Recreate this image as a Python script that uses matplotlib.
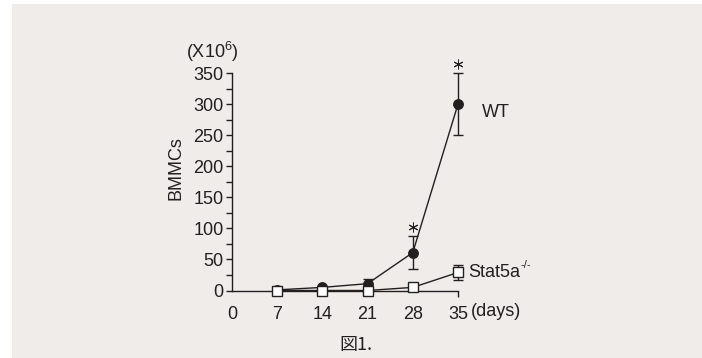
import matplotlib
matplotlib.use("Agg")
import matplotlib.pyplot as plt
import matplotlib.transforms as mtransforms
from matplotlib.patches import Rectangle

plt.rcParams['font.family'] = ['Liberation Sans', 'DejaVu Sans']
plt.rcParams['mathtext.fontset'] = 'custom'
plt.rcParams['mathtext.rm'] = 'Liberation Sans'
plt.rcParams['mathtext.it'] = 'Liberation Sans:italic'

# ---- data ----
days = [7, 14, 21, 28, 35]
wt_mean = [1, 5, 11, 61, 300]
wt_err = [0, 1, 7, 26, 50]
stat_mean = [0, 0, 0, 5, 29]
stat_err = [0, 0, 0, 2, 12]
xticks = [0, 7, 14, 21, 28, 35]
yticks = [0, 50, 100, 150, 200, 250, 300, 350]
sig_days = [28, 35]

ink = '#231f20'
bg = '#f0ecea'
fs = 13

fig = plt.figure(figsize=(7.02, 3.58), dpi=100)
fig.patch.set_facecolor('white')
fig.patches.append(Rectangle((12 / 702, 0), 1 - 12 / 702, 1 - 4 / 358,
                             transform=fig.transFigure, facecolor=bg,
                             edgecolor='none', zorder=-10))

ax = fig.add_axes([232 / 702, (358 - 290.5) / 358, 226 / 702, 217.5 / 358])
ax.set_facecolor('none')
ax.set_xlim(0, 35)
ax.set_ylim(0, 350)

for s in ['top', 'right']:
    ax.spines[s].set_visible(False)
for s in ['left', 'bottom']:
    ax.spines[s].set_color(ink)
    ax.spines[s].set_linewidth(1.0)

ax.set_xticks(xticks)
ax.set_yticks(yticks)
ax.set_yticks([25, 75, 125, 175, 225, 275, 325], minor=True)
ax.tick_params(axis='y', which='both', direction='out', length=4, width=1.0,
               color=ink, labelcolor=ink, labelsize=fs, pad=2)
ax.tick_params(axis='x', which='major', direction='in', length=4, width=1.0,
               color=ink, labelcolor=ink, labelsize=fs, pad=11)
ax.xaxis.get_major_ticks()[0].tick1line.set_visible(False)
ax.xaxis.get_major_ticks()[-1].tick1line.set_marker(3)

ax.errorbar(days, wt_mean, yerr=wt_err, color=ink, lw=1.0, marker='o',
            markersize=6.8, markerfacecolor=ink, markeredgecolor=ink,
            capsize=3.3, capthick=1.0, elinewidth=1.0, clip_on=False, zorder=3)
ax.errorbar(days, stat_mean, yerr=stat_err, color=ink, lw=1.0, marker='s',
            markersize=6.5, markerfacecolor='white', markeredgecolor=ink,
            markeredgewidth=1.0, capsize=3.3, capthick=1.0, elinewidth=1.0,
            clip_on=False, zorder=4)

# significance asterisks above WT error bars
off = mtransforms.offset_copy(ax.transData, fig=fig, y=6.5, units='points')
for d in sig_days:
    i = days.index(d)
    ax.plot([d], [wt_mean[i] + wt_err[i]], marker=(6, 2, 0), markersize=7,
            color=ink, mew=0.7, transform=off, clip_on=False)

ax.set_ylabel('BMMCs', fontsize=fs, color=ink)
ax.yaxis.set_label_coords(-0.208, 0.563)
fig.text(212 / 702, 1 - 52 / 358, r'(X10$\mathregular{^6}$)', fontsize=fs,
         color=ink, ha='center', va='center')
fig.text(471 / 702, 1 - 311 / 358, '(days)', fontsize=fs, color=ink,
         ha='left', va='center')
ax.text(days[-1], wt_mean[-1], 'WT', fontsize=fs, color=ink,
        ha='left', va='center', transform=mtransforms.offset_copy(
            ax.transData, fig=fig, x=17.5, y=-6, units='points'))
st = ax.text(days[-1], stat_mean[-1], 'Stat5a', fontsize=fs, color=ink,
             ha='left', va='center', transform=mtransforms.offset_copy(
                 ax.transData, fig=fig, x=7.5, y=0, units='points'))
ax.annotate('-/-', xy=(1.0, 0.95), xycoords=st, fontsize=8, color=ink,
            ha='left', va='center')
fig.text(356 / 702, 1 - 345 / 358, '図1.', fontsize=fs, color=ink,
         ha='center', va='center', family=['Noto Sans CJK JP', 'DejaVu Sans'])

fig.savefig('out.png', dpi=100, facecolor=fig.get_facecolor())
